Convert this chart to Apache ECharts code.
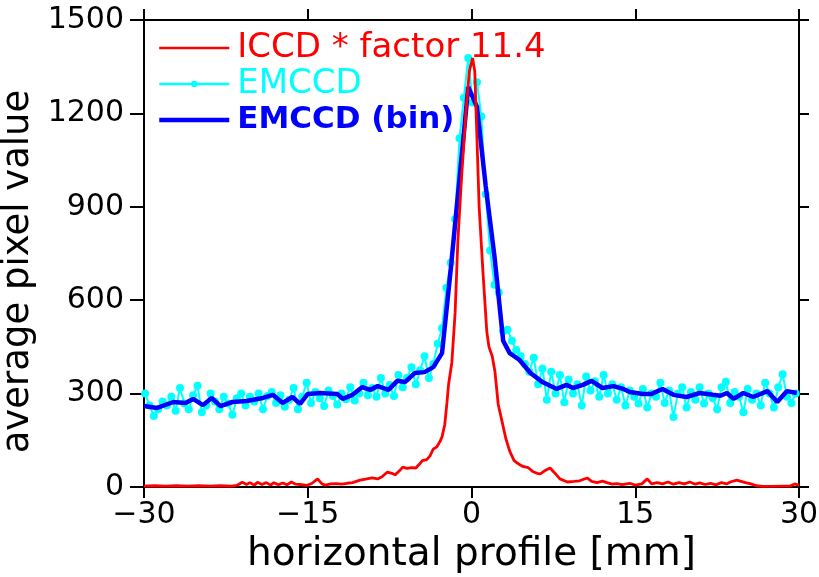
<!DOCTYPE html>
<html>
<head>
<meta charset="utf-8">
<script src="https://cdn.jsdelivr.net/npm/echarts@6/dist/echarts.min.js"></script>
<style>
html,body{margin:0;padding:0;background:#fff;}
#chart{width:819px;height:577px;}
</style>
</head>
<body>
<div id="chart"></div>
<script>
// ---- data ----
var xTicks = [-30, -15, 0, 15, 30];
var yTicks = [0, 300, 600, 900, 1200, 1500];

var iccdX = [-30,-29,-28,-27,-26,-25,-24,-23,-22,-21.5,-21,-20.6,-20.3,-19.9,-19.6,-19.2,-18.8,-18.4,-18.1,-17.7,-17.3,-16.9,-16.5,-16.1,-15.7,-15.1,-14.6,-14.1,-13.7,-13.4,-12.9,-12.4,-11.9,-11.4,-10.9,-10.2,-9.7,-9.1,-8.6,-8.2,-7.7,-7.3,-7.0,-6.6,-6.3,-5.9,-5.5,-5.1,-4.8,-4.5,-4.1,-3.8,-3.5,-3.2,-2.9,-2.7,-2.45,-2.25,-2.1,-1.8,-1.5,-1.25,-0.9,-0.5,-0.2,0.1,0.3,0.5,0.7,1.05,1.4,1.6,1.9,2.15,2.45,2.8,3.15,3.5,3.9,4.4,4.7,5.2,5.6,6.0,6.3,6.7,7.2,7.6,8.1,8.8,9.4,9.9,10.6,11.0,11.5,12.0,12.4,12.9,13.3,13.8,14.5,15.0,15.6,16.1,16.5,17.0,17.5,18.0,18.5,19.0,19.5,20.0,20.5,20.9,21.4,21.9,22.4,22.9,23.4,23.7,24.3,24.7,25.1,25.6,26.1,26.7,27.5,28.5,29.2,29.6,30];
var iccdY = [3,4,3,4,3,4,3,4,3,5,15,8,14,6,15,8,14,6,14,7,13,7,16,9,8,5,12,26,10,6,10,11,9,12,14,22,25,29,26,33,48,44,39,52,64,60,62,61,72,85,88,100,122,128,145,161,200,270,330,400,560,790,1000,1210,1335,1378,1335,1120,900,690,500,450,420,370,265,210,155,115,85,72,66,62,50,44,42,52,61,46,26,16,18,20,29,18,14,19,14,9,11,8,12,6,10,26,10,14,10,16,9,14,10,16,9,13,8,12,7,14,10,16,22,18,14,10,4,2,2,3,3,10,5];

var emX = [-29.9,-29.5,-29.1,-28.7,-28.3,-27.9,-27.5,-27.1,-26.7,-26.3,-25.9,-25.5,-25.1,-24.7,-24.3,-23.9,-23.5,-23.1,-22.7,-22.3,-21.9,-21.5,-21.1,-20.7,-20.3,-19.9,-19.5,-19.1,-18.7,-18.3,-17.9,-17.5,-17.1,-16.7,-16.3,-15.9,-15.5,-15.1,-14.7,-14.3,-13.9,-13.5,-13.1,-12.7,-12.3,-11.9,-11.5,-11.1,-10.7,-10.3,-9.9,-9.5,-9.1,-8.7,-8.3,-7.9,-7.5,-7.1,-6.7,-6.3,-5.9,-5.5,-5.1,-4.7,-4.3,-3.9,-3.5,-3.1,-2.7,-2.3,-1.9,-1.5,-1.1,-0.7,-0.3,0.1,0.5,0.9,1.3,1.7,2.1,2.5,2.9,3.3,3.7,4.1,4.5,4.9,5.3,5.7,6.1,6.5,6.9,7.3,7.7,8.1,8.5,8.9,9.3,9.7,10.1,10.5,10.9,11.3,11.7,12.1,12.5,12.9,13.3,13.7,14.1,14.5,14.9,15.3,15.7,16.1,16.5,16.9,17.3,17.7,18.1,18.5,18.9,19.3,19.7,20.1,20.5,20.9,21.3,21.7,22.1,22.5,22.9,23.3,23.7,24.1,24.5,24.9,25.3,25.7,26.1,26.5,26.9,27.3,27.7,28.1,28.5,28.9,29.3,29.7];
var emY = [300,262,228,250,275,262,290,245,318,268,250,295,325,240,262,300,275,250,290,268,232,285,300,262,290,275,300,250,292,305,270,295,258,280,318,250,290,335,270,305,285,260,310,292,265,300,282,320,278,300,335,295,318,290,350,300,328,292,360,320,350,385,330,375,420,350,395,460,510,640,720,860,1120,1250,1378,1235,1300,1190,940,760,650,625,500,505,470,440,420,395,370,415,330,380,280,370,300,360,272,345,300,330,262,355,310,340,290,360,300,330,280,320,262,310,290,268,315,255,300,290,335,270,310,225,300,320,255,305,280,320,268,300,285,250,320,338,270,305,290,240,315,280,300,262,335,300,255,320,362,290,270,300];

var binX = [-30.0,-28.8,-27.3,-26.2,-25.5,-24.6,-23.8,-23.0,-21.9,-20.6,-19.1,-18.2,-17.3,-16.4,-15.7,-15.0,-13.9,-12.3,-11.8,-10.9,-10.0,-9.3,-8.6,-7.6,-6.8,-6.1,-5.2,-4.3,-3.5,-2.7,-1.9,-1.1,-0.3,0.5,1.3,2.1,2.9,3.5,4.4,5.4,6.5,7.8,8.7,9.3,10.2,11.0,12.0,13.0,13.9,14.5,15.7,16.5,17.5,18.5,19.7,20.9,22.1,22.8,23.4,24.0,24.9,25.8,27.1,28.0,28.9,29.8];
var binY = [260,254,273,270,283,263,286,260,273,276,286,296,270,289,267,299,302,299,283,296,321,312,324,312,341,337,366,369,385,430,700,990,1285,1221,967,742,470,430,408,366,337,315,328,318,328,341,318,324,315,305,299,299,315,296,289,302,296,293,302,283,302,289,308,273,308,302];

var labels = ['ICCD * factor 11.4', 'EMCCD', 'EMCCD (bin)'];
var colors = ['#ff0000', '#00ffff', '#0000ff'];

function pairs(xs, ys){ return xs.map(function(x,i){ return [x, ys[i]]; }); }

var FONT = 'DejaVu Sans';
var chart = echarts.init(document.getElementById('chart'), null, {renderer:'canvas'});

function minus(v){ return String(v).replace('-', '\u2212'); }
function plain(v){ return String(v); }

var axisLine = {show:true, onZero:false, lineStyle:{color:'#000', width:2}};

chart.setOption({
  animation:false,
  backgroundColor:'#fff',
  grid:{left:144, right:20, top:20, bottom:90, containLabel:false, outerBoundsMode:'none'},
  legend:{
    orient:'vertical', left:152, top:25, itemWidth:70, itemHeight:8, itemGap:0,
    textStyle:{fontFamily:FONT, fontSize:34, lineHeight:36, padding:[0,0,0,3]},
    data:[
      {name:labels[0], itemStyle:{opacity:0}, lineStyle:{width:2.5, color:colors[0]}, textStyle:{color:colors[0]}},
      {name:labels[1], lineStyle:{width:2.5, color:colors[1]}, textStyle:{color:colors[1]}},
      {name:labels[2], itemStyle:{opacity:0}, lineStyle:{width:4.5, color:colors[2]}, textStyle:{color:colors[2], fontWeight:'bold', fontSize:31}}
    ]
  },
  xAxis:[
    {type:'value', min:xTicks[0], max:xTicks[xTicks.length-1], interval:15, position:'bottom',
     axisLine:axisLine, splitLine:{show:false},
     axisTick:{show:true, inside:false, length:11, lineStyle:{color:'#000', width:2}},
     axisLabel:{fontFamily:FONT, fontSize:30, color:'#000', margin:13, formatter:minus},
     name:'horizontal profile [mm]', nameLocation:'middle', nameGap:45,
     nameTextStyle:{fontFamily:FONT, fontSize:39, color:'#000'}},
    {type:'value', min:xTicks[0], max:xTicks[xTicks.length-1], interval:15, position:'top',
     axisLine:axisLine, splitLine:{show:false},
     axisTick:{show:true, inside:false, length:11, lineStyle:{color:'#000', width:2}},
     axisLabel:{show:false}}
  ],
  yAxis:[
    {type:'value', min:yTicks[0], max:yTicks[yTicks.length-1], interval:300, position:'left',
     axisLine:axisLine, splitLine:{show:false},
     axisTick:{show:true, inside:false, length:14, lineStyle:{color:'#000', width:2}},
     axisLabel:{fontFamily:FONT, fontSize:30, color:'#000', margin:20, formatter:plain},
     name:'average pixel value', nameLocation:'middle', nameGap:88, nameRotate:90,
     nameTextStyle:{fontFamily:FONT, fontSize:37, color:'#000', padding:[0,36,0,0]}},
    {type:'value', min:yTicks[0], max:yTicks[yTicks.length-1], interval:300, position:'right',
     axisLine:axisLine, splitLine:{show:false},
     axisTick:{show:true, inside:false, length:10, lineStyle:{color:'#000', width:2}},
     axisLabel:{show:false}}
  ],
  series:[
    {name:labels[1], type:'line', data:pairs(emX, emY), z:2,
     lineStyle:{color:colors[1], width:2}, itemStyle:{color:colors[1]},
     symbol:'circle', symbolSize:8, showAllSymbol:true},
    {name:labels[2], type:'line', data:pairs(binX, binY), z:3,
     lineStyle:{color:colors[2], width:4.5}, itemStyle:{color:colors[2]}, symbol:'none'},
    {name:labels[0], type:'line', data:pairs(iccdX, iccdY), z:4,
     lineStyle:{color:colors[0], width:2.8}, itemStyle:{color:colors[0]}, symbol:'none'}
  ]
});
</script>
</body>
</html>
